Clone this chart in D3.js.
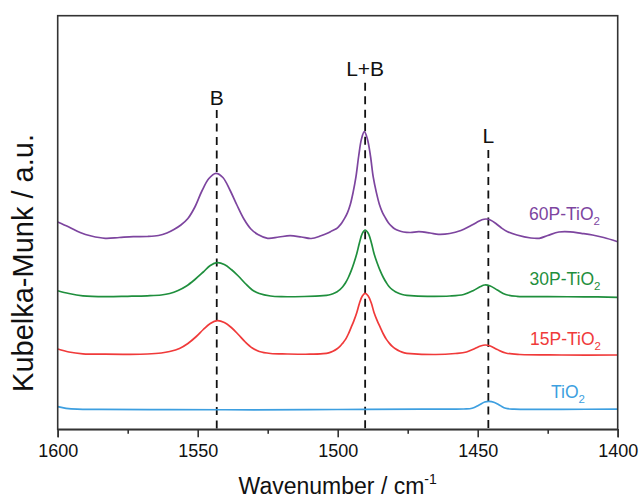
<!DOCTYPE html>
<html>
<head>
<meta charset="utf-8">
<script src="https://cdn.jsdelivr.net/npm/d3@7"></script>
<style>
  html, body { margin: 0; padding: 0; background: #fff; }
  svg { display: block; font-family: "Liberation Sans", Arial, sans-serif; }
</style>
</head>
<body>
<svg id="chart" width="640" height="498"></svg>
<script>
// ---------------- data (wavenumber in cm-1, Kubelka-Munk intensity in a.u.) ----------------
const xDomain = [1600, 1400];
const majorTicks = [1600, 1550, 1500, 1450, 1400];
const minorTicks = [1575, 1525, 1475, 1425];

const wn60 = [1600,1596,1592,1588,1583,1578,1573,1568,1564,1561,1558.5,1556,1553.5,1551,1548.5,1546,1543.5,1541,1538.5,1536,1533.5,1531,1528.5,1525,1521,1517,1513,1509.5,1506,1503.5,1502,1500.5,1499.5,1498.5,1497.5,1496.5,1495.5,1494.5,1493.5,1492.5,1491.5,1490.5,1489.4,1488.3,1487.3,1486.2,1485.1,1484.0,1482.9,1481.9,1480.8,1479.7,1478.1,1476.5,1474,1471,1467,1464,1460,1456,1453,1450.4,1448.5,1447,1445.5,1443.5,1441.5,1439.5,1436,1431,1428,1425,1421,1417,1413,1409,1405,1400];
const km60 = [207.3,202.3,196.8,193.3,191.0,191.8,192.6,192.8,193.8,196.3,199.8,204.3,210.8,222.3,238.3,250.8,256.0,251.8,239.3,224.3,210.3,200.3,194.8,191.0,192.3,193.6,192.3,190.8,193.5,196.3,198.5,200.5,203.1,206.6,211.1,216.7,224.8,236.9,252.1,273.3,290.4,297.6,290.4,273.3,252.1,236.9,224.8,216.7,211.1,206.6,203.1,200.5,198.5,197.3,196.8,197.6,196.3,195.0,195.8,198.8,202.8,206.8,209.5,210.3,209.3,205.8,201.3,197.8,194.3,191.3,191.0,193.8,197.3,197.5,196.0,194.3,191.8,187.6];

const wn30 = [1600,1596,1591,1583,1575,1568,1563,1560,1557,1554,1551,1548,1545.5,1543,1540.5,1538,1535.5,1533,1530.5,1528,1524,1520,1512,1505.2,1503.2,1501.7,1500.2,1499.2,1498.2,1497.2,1496.2,1495.2,1494.2,1493.2,1492.2,1491.2,1490.2,1489.1,1488.0,1487.0,1485.9,1484.8,1483.7,1482.6,1481.6,1480.5,1479.4,1477.8,1476.2,1474,1468,1460,1455,1451.5,1449,1447.5,1445.5,1443,1440,1436,1425,1412,1400];
const km30 = [138.6,135.8,133.5,132.6,133.0,133.5,134.3,135.8,138.8,143.3,149.8,157.3,163.8,166.6,164.8,159.8,153.3,145.8,139.3,135.8,133.3,132.6,132.8,133.6,134.3,135.6,137.6,139.6,142.5,146.5,151.8,158.4,166.3,175.5,186.8,196.0,199.3,196.0,186.8,175.5,166.3,158.4,151.8,146.5,142.5,139.6,137.6,135.6,134.3,133.6,133.0,133.3,134.8,138.8,142.8,144.3,143.3,139.3,134.8,133.0,132.6,132.5,132.0];

const wn15 = [1600,1596,1591,1583,1575,1568,1563,1560,1556.5,1553.5,1550.5,1548,1545.5,1543,1540.5,1538,1535.5,1533,1530.5,1528,1524,1518,1510,1505.2,1503.2,1501.7,1500.2,1499.2,1498.2,1497.2,1496.2,1495.2,1494.2,1493.2,1492.2,1491.2,1490.2,1489.1,1488.0,1487.0,1485.9,1484.8,1483.7,1482.6,1481.6,1480.5,1479.4,1477.8,1476.2,1474,1465,1458,1454,1451,1449,1447.3,1445.5,1443,1440,1435,1420,1400];
const km15 = [80.3,77.3,75.5,75.1,75.0,75.3,76.3,77.8,80.8,85.8,92.8,99.8,105.8,108.6,106.8,101.8,94.8,87.3,81.3,77.8,75.8,75.3,75.1,75.7,76.5,78.0,80.5,82.9,86.2,89.9,95.3,102.0,108.7,116.6,126.3,133.3,136.0,133.3,126.3,116.6,108.7,102.0,95.3,89.9,86.2,82.9,80.5,78.0,76.5,75.7,74.8,75.8,77.3,80.8,83.3,84.3,83.3,79.8,76.3,74.8,74.3,74.3];

const wn0 = [1600,1597,1593,1585,1560,1530,1500,1470,1455,1452,1449.5,1447.5,1446,1444,1442,1440,1437,1420,1400];
const km0 = [22.6,21.0,20.1,19.9,19.7,19.5,19.8,20.1,20.3,21.0,24.3,27.3,28.0,26.8,23.8,21.0,20.1,20.0,20.1];

const seriesNames = ["TiO", "15P-TiO", "30P-TiO", "60P-TiO"];   // each followed by subscript "2"
const seriesColors = ["#3d9fe0", "#f03a3a", "#1f8f3d", "#7d459f"];

const peakNames = ["B", "L+B", "L"];
const peakWn = [1543.2, 1490.2, 1446.2];

// ---------------- layout ----------------
const svg = d3.select("#chart");
const L = 57.7, R = 617.7, T = 15.7, B = 429.3;

const x = d3.scaleLinear().domain(xDomain).range([L, R]);
const y = d3.scaleLinear().domain([0, 413.6]).range([B, T]);

const seriesData = [
  {wn: wn0, km: km0},
  {wn: wn15, km: km15},
  {wn: wn30, km: km30},
  {wn: wn60, km: km60}
];

const line = d3.line()
  .x(d => x(d[0]))
  .y(d => y(d[1]))
  .curve(d3.curveCatmullRom.alpha(0.5));

// dashed marker lines
const peakLabelY = [105, 76, 143];
const dashTop = [110, 82.7, 150];
peakWn.forEach((w, i) => {
  svg.append("line")
    .attr("x1", x(w)).attr("x2", x(w))
    .attr("y1", dashTop[i]).attr("y2", B)
    .attr("stroke", "#111").attr("stroke-width", 1.8)
    .attr("stroke-dasharray", "8,5.5");
  svg.append("text")
    .attr("x", x(w)).attr("y", peakLabelY[i])
    .attr("text-anchor", "middle")
    .attr("font-size", 21).attr("fill", "#111")
    .text(peakNames[i]);
});

// curves
seriesData.forEach((s, i) => {
  const pts = s.wn.map((w, j) => [w, s.km[j]]);
  svg.append("path")
    .attr("d", line(pts))
    .attr("fill", "none")
    .attr("stroke", seriesColors[i])
    .attr("stroke-width", 1.7)
    .attr("stroke-linejoin", "round");
});

// series labels
const labelRight = [585, 601, 600.5, 600];
const labelBase = [398, 345, 285, 220];
seriesNames.forEach((n, i) => {
  const t = svg.append("text")
    .attr("x", labelRight[i]).attr("y", labelBase[i])
    .attr("text-anchor", "end")
    .attr("font-size", 17.5).attr("fill", seriesColors[i]);
  t.append("tspan").text(n);
  t.append("tspan").attr("font-size", 11.5).attr("dy", 5).text("2");
});

// frame
svg.append("rect")
  .attr("x", L).attr("y", T).attr("width", R - L).attr("height", B - T)
  .attr("fill", "none").attr("stroke", "#333").attr("stroke-width", 1.6);

// x axis major
const gx = svg.append("g").attr("transform", `translate(0,${B})`)
  .call(d3.axisBottom(x).tickValues(majorTicks).tickSize(8).tickPadding(7).tickFormat(d3.format("d")));
gx.select(".domain").attr("stroke", "#333").attr("stroke-width", 1.6);
gx.selectAll(".tick line").attr("stroke", "#333").attr("stroke-width", 1.6);
gx.selectAll(".tick text").attr("font-size", 18).attr("fill", "#111")
  .attr("font-family", "'Liberation Sans', Arial, sans-serif");

// x axis minor
const gm = svg.append("g").attr("transform", `translate(0,${B})`)
  .call(d3.axisBottom(x).tickValues(minorTicks).tickSize(4.5).tickFormat(""));
gm.select(".domain").remove();
gm.selectAll(".tick line").attr("stroke", "#333").attr("stroke-width", 1.6);

// axis titles
const xt = svg.append("text")
  .attr("x", (L + R) / 2).attr("y", 494)
  .attr("text-anchor", "middle").attr("font-size", 23).attr("fill", "#111");
xt.append("tspan").text("Wavenumber / cm");
xt.append("tspan").attr("font-size", 14).attr("dy", -10).text("-1");

svg.append("text")
  .attr("transform", "translate(33,263) rotate(-90)")
  .attr("text-anchor", "middle").attr("font-size", 29).attr("fill", "#111")
  .text("Kubelka-Munk / a.u.");
</script>
</body>
</html>
